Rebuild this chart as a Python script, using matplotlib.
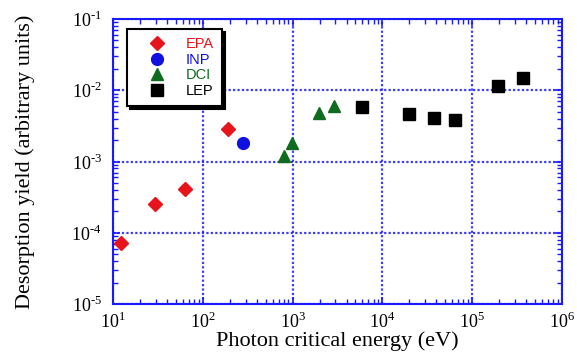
import matplotlib
matplotlib.use('Agg')
import matplotlib.pyplot as plt
from matplotlib.ticker import LogLocator, NullFormatter, FuncFormatter
import math

# Data
epa_energy = [12.3, 29.3, 63, 191]
epa_yield = [7.2e-5, 2.5e-4, 4.1e-4, 2.86e-3]

inp_energy = [281]
inp_yield = [1.8e-3]

dci_energy = [798, 997, 1990, 2900]
dci_yield = [1.19e-3, 1.82e-3, 4.75e-3, 6.0e-3]

lep_energy = [5890, 19600, 37200, 64300, 195000, 364000]
lep_yield = [5.87e-3, 4.69e-3, 4.12e-3, 3.82e-3, 1.16e-2, 1.49e-2]

plt.rcParams['font.family'] = 'Liberation Serif'
plt.rcParams['mathtext.fontset'] = 'custom'
plt.rcParams['mathtext.rm'] = 'Liberation Serif'

axis_blue = '#1a1aff'


def pow_label(v, pos):
    e = int(round(math.log10(v)))
    return r'$10^{\text{%d}}$' % e


fig = plt.figure(figsize=(5.77, 3.58), dpi=100)
ax = fig.add_axes([113 / 577, 1 - 304 / 358, 449 / 577, 285 / 358])
ax.set_xscale('log')
ax.set_yscale('log')
ax.set_xlim(10, 1e6)
ax.set_ylim(1e-5, 1e-1)

ax.plot(epa_energy, epa_yield, 'D', color='#e8141c', markersize=7, label='EPA', zorder=3)
ax.plot(inp_energy, inp_yield, 'o', color='#1010e0', markersize=8.5, label='INP', zorder=3)
ax.plot(dci_energy, dci_yield, '^', color='#0f6b1f', markersize=8.5, label='DCI', zorder=3)
ax.plot(lep_energy, lep_yield, 's', color='black', markersize=8.5, label='LEP', zorder=3)

# Blue frame, dotted grid, inward ticks on every side
for sp in ax.spines.values():
    sp.set_color(axis_blue)
    sp.set_linewidth(1.5)
for axis in (ax.xaxis, ax.yaxis):
    axis.set_major_locator(LogLocator(base=10, numticks=10))
    axis.set_minor_locator(LogLocator(base=10, subs=range(2, 10), numticks=10))
    axis.set_minor_formatter(NullFormatter())
    axis.set_major_formatter(FuncFormatter(pow_label))
ax.grid(which='major', color=axis_blue, linestyle=(0, (1, 1)), linewidth=1.6, alpha=0.85)
ax.tick_params(which='both', direction='in', top=True, right=True, color=axis_blue,
               labelsize=13, labelcolor='black')
ax.tick_params(which='major', length=5, width=1.2)
ax.tick_params(which='minor', length=3.5, width=1)
ax.tick_params(axis='x', pad=6)
ax.tick_params(axis='y', pad=8)

ax.set_xlabel('Photon critical energy (eV)', fontsize=16, labelpad=-1)
ax.set_ylabel('Desorption yield (arbitrary units)', fontsize=16, labelpad=26)

leg = ax.legend(loc='upper left', bbox_to_anchor=(0.031, 0.965), fancybox=False,
                shadow={'color': 'black', 'alpha': 1}, framealpha=1, edgecolor='black',
                prop={'family': 'Liberation Sans', 'size': 10.5}, handletextpad=0.5,
                borderpad=0.55, labelspacing=0.12, handlelength=3.0, borderaxespad=0)
leg.get_frame().set_linewidth(1.5)
for text, c in zip(leg.get_texts(), ['#e8141c', '#1010e0', '#0f6b1f', 'black']):
    text.set_color(c)

fig.savefig('out.png', dpi=100)
